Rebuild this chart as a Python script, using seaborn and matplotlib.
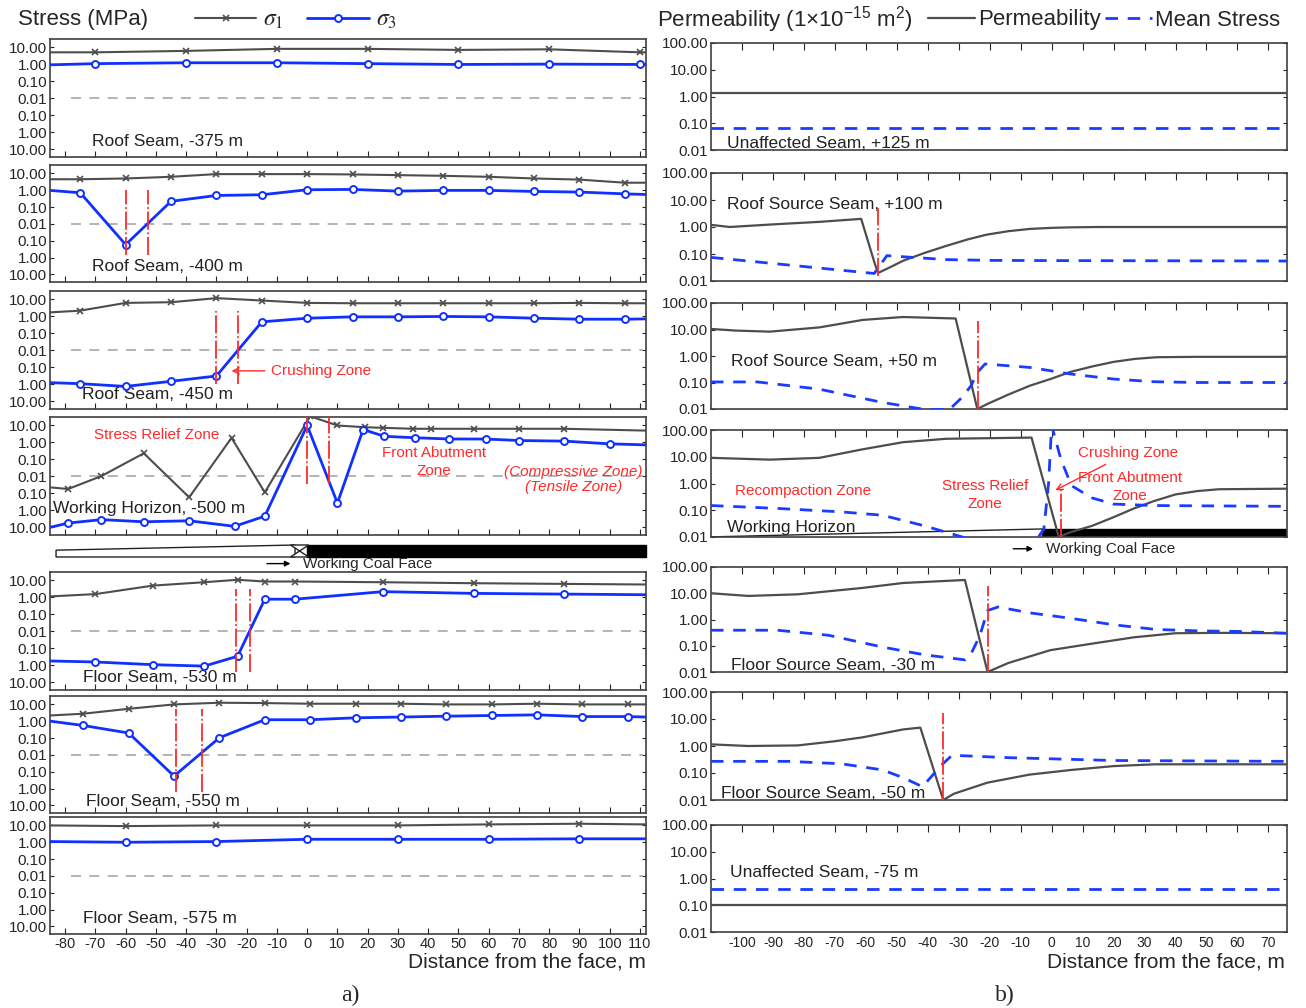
import numpy as np
import seaborn as sns
import matplotlib.pyplot as plt
from matplotlib.lines import Line2D
from matplotlib.patches import Polygon, Rectangle
from matplotlib.ticker import FuncFormatter, NullLocator

# ---------------- a) principal stresses, MPa (tensile stored as negative) ----------------
x_375 = [-85, -70, -40, -10, 20, 50, 80, 110, 112]
s1_375 = [5.2, 5.2, 6.3, 8.3, 8.3, 7.2, 7.8, 5.2, 5.2]
s3_375 = [0.95, 1.12, 1.26, 1.26, 1.12, 1.0, 1.05, 1.0, 1.0]

x_400 = [-85, -75, -60, -45, -30, -15, 0, 15, 30, 45, 60, 75, 90, 105, 112]
s1_400 = [4.5, 4.5, 5.0, 6.3, 9.1, 9.1, 9.1, 8.7, 7.9, 7.2, 6.3, 5.0, 4.3, 2.8, 2.8]
s3_400 = [0.98, 0.71, -0.17, 0.22, 0.49, 0.54, 1.07, 1.12, 0.89, 0.98, 0.98, 0.85, 0.78, 0.61, 0.56]

x_450 = [-85, -75, -60, -45, -30, -15, 0, 15, 30, 45, 60, 75, 90, 105, 112]
s1_450 = [1.74, 2.2, 6.3, 6.9, 12, 8.7, 6.3, 6.0, 6.0, 6.0, 6.0, 6.0, 6.3, 6.0, 6.0]
s3_450 = [-0.79, -0.91, -1.32, -0.66, -0.32, 0.48, 0.79, 0.95, 0.95, 1.0, 0.95, 0.79, 0.69, 0.69, 0.72]

x1_500 = [-85, -79, -68, -54, -39, -25, -14, 1, 10, 19, 25, 35, 41, 55, 70, 85, 112]
s1_500 = [-0.044, -0.055, 0.0105, 0.23, -0.17, 1.86, -0.087, 35, 10, 7.9, 7.3, 6.4, 6.4, 6.4, 6.4, 6.4, 5.0]
x3_500 = [-85, -79, -68, -54, -39, -24, -14, 0, 10, 18.5, 25.5, 35.5, 47, 59, 70, 85, 100, 112]
s3_500 = [-10, -5.6, -3.5, -4.7, -4.1, -8.7, -2.2, 10, -0.37, 5.8, 2.3, 1.9, 1.6, 1.6, 1.3, 1.2, 0.83, 0.72]

x_530 = [-85, -70, -51, -34, -23, -14, -4, 25, 55, 85, 112]
s1_530 = [1.15, 1.58, 5.0, 7.9, 11, 8.7, 8.7, 7.9, 6.9, 6.3, 5.8]
s3_530 = [-0.55, -0.63, -0.91, -1.1, -0.29, 0.79, 0.79, 2.2, 1.74, 1.58, 1.45]

x_550 = [-85, -74, -59, -44, -29, -14, 1, 16, 31, 46, 61, 76, 91, 106, 112]
s1_550 = [2.2, 2.8, 5.5, 10, 12.6, 12, 11, 11, 11, 10, 10, 11, 10, 10, 10]
s3_550 = [1.02, 0.56, 0.2, -0.18, 0.105, 1.23, 1.23, 1.6, 1.78, 2.0, 2.2, 2.4, 1.9, 1.9, 1.78]

x_575 = [-85, -60, -30, 0, 30, 60, 90, 112]
s1_575 = [10, 9.1, 10, 10, 10, 11.5, 12.6, 11.5]
s3_575 = [1.1, 1.0, 1.1, 1.5, 1.5, 1.5, 1.6, 1.6]

# red zone boundaries (x) and their vertical extent (stress)
zone_400, span_400 = [-60, -52.5], [-0.7, 1.07]
zone_450, span_450 = [-30, -22.7], [-0.91, 2.2]
zone_500, span_500 = [0, 7.3], [-0.028, 40]
zone_530, span_530 = [-23.5, -19], [-2.5, 3.2]
zone_550, span_550 = [-43.2, -34.7], [-1.6, 5.0]

stress_names = ["Roof Seam, -375 m", "Roof Seam, -400 m", "Roof Seam, -450 m",
                "Working Horizon, -500 m", "Floor Seam, -530 m", "Floor Seam, -550 m",
                "Floor Seam, -575 m"]
stress_name_pos = [(-71, -3.5), (-71, -3.4), (-74.5, -4.0), (-84, -0.8),
                   (-74, -5.0), (-73, -5.8), (-74, -3.2)]
stress_ticks = [-10, -1, -0.1, 0.01, 0.1, 1, 10]

# ---------------- b) permeability (1e-15 m2) and mean stress ----------------
px_125, perm_125 = [-110, 76], [1.4, 1.4]
mx_125, ms_125 = [-110, 76], [0.068, 0.068]

px_100 = [-110, -104, -90, -75, -61.5, -57, -56, -52, -48, -41, -34, -27, -21, -14, -7, 0, 6, 15, 76]
perm_100 = [1.2, 1.0, 1.25, 1.55, 2.0, 0.04, 0.02, 0.033, 0.056, 0.11, 0.2, 0.35, 0.52, 0.7, 0.85,
            0.93, 0.97, 1.0, 1.0]
mx_100 = [-110, -57.3, -53.2, -45, -34, -20, 0, 76]
ms_100 = [0.075, 0.019, 0.087, 0.075, 0.062, 0.058, 0.057, 0.055]

px_50 = [-110, -102, -91, -75, -61, -48, -31, -24, -21, -14, -7, 0, 6, 13, 20, 27, 34, 47, 76]
perm_50 = [10.5, 9.1, 8.3, 12, 23, 29.6, 26, 0.01, 0.015, 0.035, 0.076, 0.14, 0.25, 0.4, 0.6,
           0.78, 0.9, 0.93, 0.93]
mx_50 = [-110, -95, -75, -55, -41, -33, -29, -26, -24, -21.5, -7, 6, 20, 33, 47, 76]
ms_50 = [0.105, 0.105, 0.056, 0.018, 0.0096, 0.0096, 0.027, 0.076, 0.24, 0.5, 0.37, 0.21,
         0.135, 0.107, 0.1, 0.1]

px_wh = [-110, -91, -75, -61, -48, -34, -6.5, 2.3, 6, 13, 20, 26.6, 33, 40, 47, 54, 76]
perm_wh = [9.1, 7.8, 9.1, 19, 35, 47, 52, 0.01, 0.015, 0.026, 0.055, 0.117, 0.22, 0.39, 0.52,
           0.61, 0.64]
mx_wh = [-110, -88.5, -68, -54.6, -41, -27.5, -14, -5, -2.5, -1, 0, 3, 6.4, 13, 20, 33, 76]
ms_wh = [0.15, 0.117, 0.087, 0.065, 0.026, 0.009, 0.0075, 0.0075, 0.02, 1.0, 150, 7.9, 0.83,
         0.29, 0.17, 0.15, 0.14]

px_m30 = [-110, -98, -82, -61, -48, -28, -20.7, -14, -0.4, 13, 26.6, 40, 54, 76]
perm_m30 = [10, 7.9, 9.1, 16, 24.6, 32, 0.01, 0.022, 0.068, 0.12, 0.21, 0.3, 0.31, 0.3]
mx_m30 = [-110, -88.5, -72, -54.6, -41, -28, -26, -23.2, -20.7, -17.3, -7.2, 6.4, 20, 33.5, 47,
          60.6, 76]
ms_m30 = [0.39, 0.39, 0.25, 0.089, 0.045, 0.029, 0.05, 0.24, 2.2, 3.0, 1.8, 1.1, 0.63, 0.42,
          0.37, 0.35, 0.30]

px_m50 = [-110, -98, -82, -70, -61, -48, -42.4, -35, -31.6, -20.7, -7.2, 6.4, 20, 33.5, 76]
perm_m50 = [1.15, 1.0, 1.05, 1.5, 2.1, 4.1, 4.8, 0.01, 0.017, 0.044, 0.087, 0.13, 0.18, 0.21, 0.21]
mx_m50 = [-110, -85, -68, -54.6, -47.8, -41.7, -35.7, -32.2, -27.5, -14, 6.4, 20, 76]
ms_m50 = [0.27, 0.27, 0.22, 0.13, 0.066, 0.031, 0.19, 0.45, 0.43, 0.37, 0.32, 0.29, 0.27]

px_m75, perm_m75 = [-110, 76], [0.1, 0.1]
mx_m75, ms_m75 = [-110, 76], [0.4, 0.4]

face_x = [None, -56, -23.7, 3, -20.7, -35, None]
face_span = [None, (0.0155, 4.9), (0.01, 21), (0.01, 0.6), (0.01, 18.6), (0.01, 16), None]

perm_names = ["Unaffected Seam, +125 m", "Roof Source Seam, +100 m", "Roof Source Seam, +50 m",
              "Working Horizon", "Floor Source Seam, -30 m", "Floor Source Seam, -50 m",
              "Unaffected Seam, -75 m"]
perm_name_pos = [(-104.7, 0.017), (-104.7, 7), (-103.4, 0.6), (-104.7, 0.022),
                 (-103.4, 0.018), (-106.8, 0.018), (-104, 1.7)]
perm_ticks = [0.01, 0.1, 1, 10, 100]

# ---------------- style ----------------
sns.set_style("ticks")
plt.rcParams["font.family"] = ["Liberation Sans", "DejaVu Sans"]
plt.rcParams["mathtext.fontset"] = "custom"
plt.rcParams["mathtext.rm"] = "Liberation Sans"
plt.rcParams["mathtext.it"] = "Liberation Sans:italic"
plt.rcParams["axes.edgecolor"] = "#404040"
plt.rcParams["axes.linewidth"] = 1.2
plt.rcParams["axes.unicode_minus"] = False

RED = "#ff2a2a"
GRAY = "#4d4d4d"
BLUE = "#1030ff"
MSBLUE = "#1a3cff"
W, H = 1306, 1008


def box(x0, y0, x1, y1):
    return [x0 / W, 1 - y1 / H, (x1 - x0) / W, (y1 - y0) / H]


def to_t(v):
    v = np.asarray(v, dtype=float)
    with np.errstate(divide="ignore", invalid="ignore"):
        t = np.sign(v) * np.clip(np.log10(np.abs(v)) + 2, 0, None)
    return np.nan_to_num(t)


def from_t(t):
    t = np.asarray(t, dtype=float)
    return np.sign(t) * 10 ** (np.abs(t) - 2)


fig = plt.figure(figsize=(W / 100, H / 100), dpi=100)

left_rows = [(39, 157), (165, 282), (291, 409), (417, 535), (572, 690), (696, 813), (817, 934)]
right_rows = [(43, 150), (173, 281), (303, 409), (430, 537), (567, 672), (692, 800), (825, 932)]

stress_series = [(x_375, s1_375, x_375, s3_375), (x_400, s1_400, x_400, s3_400),
                 (x_450, s1_450, x_450, s3_450), (x1_500, s1_500, x3_500, s3_500),
                 (x_530, s1_530, x_530, s3_530), (x_550, s1_550, x_550, s3_550),
                 (x_575, s1_575, x_575, s3_575)]
zones = [(None, None), (zone_400, span_400), (zone_450, span_450), (zone_500, span_500),
         (zone_530, span_530), (zone_550, span_550), (None, None)]

left_axes = []
for i, (xa, ya, xb, yb) in enumerate(stress_series):
    top, bot = left_rows[i]
    ax = fig.add_axes(box(50, top, 646, bot))
    ax.set_yscale("function", functions=(to_t, from_t))
    inner_a = [k for k, v in enumerate(xa) if -85 < v < 112]
    inner_b = [k for k, v in enumerate(xb) if -85 < v < 112]
    sns.lineplot(x=xa, y=ya, ax=ax, color=GRAY, lw=1.5, marker="x", markevery=inner_a,
                 ms=5, mew=1.2, mec=GRAY, estimator=None, sort=False, zorder=3)
    sns.lineplot(x=xb, y=yb, ax=ax, color=BLUE, lw=2.0, marker="o", markevery=inner_b,
                 ms=5, mew=1.4, mec=BLUE, mfc="white", estimator=None, sort=False, zorder=4)
    ax.axhline(0.01, xmin=0.036, xmax=0.995, color="#a8a8a8", lw=1.2, dashes=(6, 5), zorder=1)
    zx, zs = zones[i]
    if zx is not None:
        ax.vlines(zx, zs[0], zs[1], colors=RED, lw=1.3, linestyles=[(0, (10, 1.5, 1, 1.5))],
                  zorder=5)
    ax.set_xlim(-85, 112)
    ax.set_ylim(float(from_t(-3.45)), float(from_t(3.5)))
    ax.set_yticks(stress_ticks)
    ax.yaxis.set_major_formatter(FuncFormatter(lambda v, p: f"{abs(v):.2f}"))
    ax.yaxis.set_minor_locator(NullLocator())
    ax.set_xticks(range(-80, 111, 10))
    ax.tick_params(axis="x", direction="in", length=4, bottom=True, top=False,
                   labelbottom=(i == 6), labelsize=10.5, pad=2)
    ax.tick_params(axis="y", direction="in", length=3, left=True, right=True,
                   labelsize=11, pad=2)
    ax.set_xlabel("")
    ax.set_ylabel("")
    nx, ny = stress_name_pos[i]
    ax.text(nx, ny, stress_names[i], fontsize=12.5, va="center", ha="left", color="#222222")
    left_axes.append(ax)

# annotations on the stress panels
ax3 = left_axes[2]
ax3.annotate("Crushing Zone", xy=(-25, -0.16), xytext=(-12, -0.16), color=RED, fontsize=11,
             va="center", arrowprops=dict(arrowstyle="->", color=RED, lw=1, shrinkB=0))
ax4 = left_axes[3]
ax4.text(-49.8, 2.9, "Stress Relief Zone", color=RED, fontsize=11, ha="center", va="center")
ax4.text(42, 0.068, "Front Abutment\nZone", color=RED, fontsize=11, ha="center", va="center",
         linespacing=1.35)
ax4.text(88, 0.019, "(Compressive Zone)", color=RED, fontsize=11, ha="center", va="center",
         style="italic")
ax4.text(88, -0.042, "(Tensile Zone)", color=RED, fontsize=11, ha="center", va="center",
         style="italic")

# coal face strip under the working horizon
bar = fig.add_axes(box(50, 545, 646, 557))
bar.set_xlim(-85, 112)
bar.set_ylim(0, 1)
bar.axis("off")
bar.add_patch(Polygon([(-83, 0), (-83, 0.57), (-4, 1), (-4, 0)], closed=True,
                      facecolor="white", edgecolor="#222222", lw=1, clip_on=False))
bar.add_patch(Rectangle((0, 0), 112, 1, facecolor="black", edgecolor="black", clip_on=False))
bar.add_patch(Polygon([(-5.5, 1), (0.5, 1), (-5.5, 0), (0.5, 0)], closed=True,
                      facecolor="white", edgecolor="#222222", lw=1, clip_on=False))
bar.annotate("", xy=(-4.6, -0.55), xytext=(-14.2, -0.55), annotation_clip=False,
             arrowprops=dict(arrowstyle="-|>", color="black", lw=1, mutation_scale=8))
bar.text(-1.5, -0.55, "Working Coal Face", fontsize=11, va="center", ha="left")

# ---------------- permeability column ----------------
perm_series = [(px_125, perm_125, mx_125, ms_125), (px_100, perm_100, mx_100, ms_100),
               (px_50, perm_50, mx_50, ms_50), (px_wh, perm_wh, mx_wh, ms_wh),
               (px_m30, perm_m30, mx_m30, ms_m30), (px_m50, perm_m50, mx_m50, ms_m50),
               (px_m75, perm_m75, mx_m75, ms_m75)]

right_axes = []
for i, (xp, yp, xm, ym) in enumerate(perm_series):
    top, bot = right_rows[i]
    ax = fig.add_axes(box(711, top, 1287, bot))
    ax.set_yscale("log")
    if i == 3:
        ax.add_patch(Rectangle((-3, 0.01), 79, 0.01, facecolor="black", edgecolor="black",
                               zorder=1))
        ax.plot([-110, -3, -3], [0.0101, 0.02, 0.01], color="#222222", lw=1, zorder=1)
    sns.lineplot(x=xp, y=yp, ax=ax, color=GRAY, lw=1.6, estimator=None, sort=False, zorder=3)
    sns.lineplot(x=xm, y=ym, ax=ax, color=MSBLUE, lw=2.0, ls=(0, (4.5, 3.5)), estimator=None,
                 sort=False, zorder=4)
    if face_x[i] is not None:
        ax.vlines(face_x[i], face_span[i][0], face_span[i][1], colors=RED, lw=1.3,
                  linestyles=[(0, (10, 1.5, 1, 1.5))], zorder=5)
    ax.set_xlim(-110, 76)
    ax.set_ylim(0.01, 100)
    ax.set_yticks(perm_ticks)
    ax.yaxis.set_major_formatter(FuncFormatter(lambda v, p: f"{v:.2f}"))
    ax.yaxis.set_minor_locator(NullLocator())
    ax.set_xticks(range(-100, 71, 10))
    ax.tick_params(axis="x", direction="in", length=5, top=True, bottom=False,
                   labelbottom=(i == 6), labelsize=10, pad=3)
    ax.tick_params(axis="y", direction="in", length=3, left=True, right=True,
                   labelsize=11, pad=2)
    ax.set_xlabel("")
    ax.set_ylabel("")
    nx, ny = perm_name_pos[i]
    ax.text(nx, ny, perm_names[i], fontsize=12.5, va="center", ha="left", color="#222222")
    right_axes.append(ax)

rw = right_axes[3]
rw.text(-80.4, 0.52, "Recompaction Zone", color=RED, fontsize=11, ha="center", va="center")
rw.text(-21.4, 0.36, "Stress Relief\nZone", color=RED, fontsize=11, ha="center", va="center",
        linespacing=1.35)
rw.annotate("Crushing Zone", xy=(1.2, 0.56), xytext=(24.7, 14), color=RED, fontsize=11,
            ha="center", va="center",
            arrowprops=dict(arrowstyle="->", color=RED, lw=1, shrinkB=0))
rw.text(25.3, 0.74, "Front Abutment\nZone", color=RED, fontsize=11, ha="center", va="center",
        linespacing=1.35)
trans = rw.get_xaxis_transform()
rw.annotate("", xy=(-5.1, -0.11), xytext=(-13.3, -0.11), xycoords=trans, textcoords=trans,
            annotation_clip=False,
            arrowprops=dict(arrowstyle="-|>", color="black", lw=1, mutation_scale=8))
rw.text(-1.8, -0.11, "Working Coal Face", transform=trans, fontsize=11, va="center",
        ha="left")

# ---------------- headers, legends and axis titles ----------------
fig.text(18 / W, 1 - 20 / H, "Stress (MPa)", fontsize=16, va="center", ha="left")
h1 = Line2D([], [], color=GRAY, lw=1.5, marker="x", ms=5, mew=1.2)
h3 = Line2D([], [], color=BLUE, lw=2, marker="o", ms=5, mfc="white", mec=BLUE, mew=1.4)
fig.legend([h1, h3], [r"$\sigma_1$", r"$\sigma_3$"], loc="center left",
           bbox_to_anchor=(195 / W, 1 - 20 / H), ncol=2, frameon=False,
           prop=dict(size=17, math_fontfamily="stix"), handlelength=2.6, handletextpad=0.3,
           columnspacing=1.0, borderpad=0, borderaxespad=0)

fig.text(657 / W, 1 - 20 / H, r"Permeability (1×10$^{-15}$ m$^{2}$)", fontsize=16,
         va="center", ha="left")
hp = Line2D([], [], color=GRAY, lw=1.6)
hm = Line2D([], [], color=MSBLUE, lw=2, ls=(0, (4.5, 3.5)))
fig.legend([hp, hm], ["Permeability", "Mean Stress"], loc="center left",
           bbox_to_anchor=(928 / W, 1 - 20 / H), ncol=2, frameon=False, prop=dict(size=16),
           handlelength=2.1, handletextpad=0.15, columnspacing=0.2, borderpad=0,
           borderaxespad=0)

fig.text(646 / W, 1 - 962 / H, "Distance from the face, m", fontsize=15, ha="right",
         va="center")
fig.text(1285 / W, 1 - 962 / H, "Distance from the face, m", fontsize=15, ha="right",
         va="center")
fig.text(350 / W, 1 - 995 / H, "a)", fontsize=17, family="Liberation Serif", ha="center",
         va="center")
fig.text(1005 / W, 1 - 995 / H, "b)", fontsize=17, family="Liberation Serif", ha="center",
         va="center")

fig.savefig("out.png", dpi=100)
